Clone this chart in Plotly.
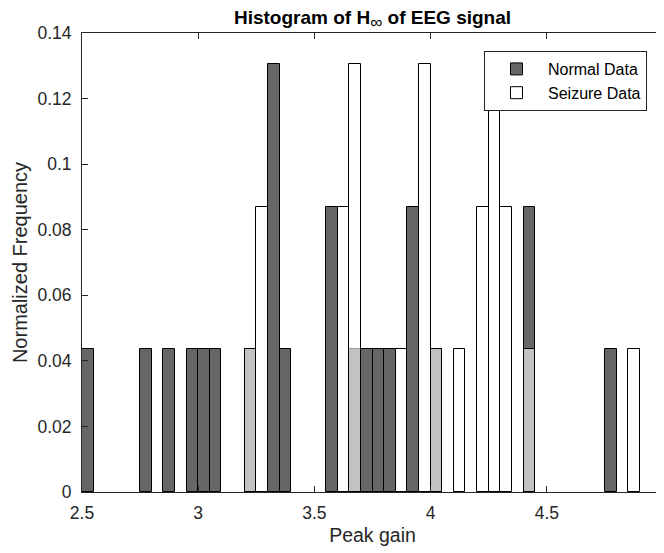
import plotly.graph_objects as go

bin_width = 0.05

normal_bin_starts = [2.50, 2.75, 2.85, 2.95, 3.00, 3.05, 3.20, 3.30, 3.35, 3.55, 3.65,
                     3.70, 3.75, 3.80, 3.90, 4.00, 4.40, 4.75]
normal_freq = [0.0435, 0.0435, 0.0435, 0.0435, 0.0435, 0.0435, 0.0435, 0.1304, 0.0435,
               0.0870, 0.0435, 0.0435, 0.0435, 0.0435, 0.0870, 0.0435, 0.0870, 0.0435]

seizure_bin_starts = [3.20, 3.25, 3.60, 3.65, 3.85, 3.95, 4.00, 4.10, 4.20, 4.25, 4.30,
                      4.40, 4.85]
seizure_freq = [0.0435, 0.0870, 0.0870, 0.1304, 0.0435, 0.1304, 0.0435, 0.0435, 0.0870,
                0.1304, 0.0870, 0.0435, 0.0435]

x_ticks = [2.5, 3, 3.5, 4, 4.5, 5]
x_tick_labels = ["2.5", "3", "3.5", "4", "4.5", "5"]
y_ticks = [0, 0.02, 0.04, 0.06, 0.08, 0.1, 0.12, 0.14]
y_tick_labels = ["0", "0.02", "0.04", "0.06", "0.08", "0.1", "0.12", "0.14"]

axis_color = "#262626"
font_family = "Liberation Sans, Arial, sans-serif"

# the page places the figure 8 px in from the top-left corner
W, H = 656, 545
L, R, T, B = 74, 1, 25, 61

fig = go.Figure()
fig.add_trace(go.Bar(
    x=[s + bin_width / 2 for s in normal_bin_starts], y=normal_freq, width=bin_width,
    name="Normal Data",
    marker=dict(color="rgba(0,0,0,0.6)", line=dict(color="black", width=1)),
))
fig.add_trace(go.Bar(
    x=[s + bin_width / 2 for s in seizure_bin_starts], y=seizure_freq, width=bin_width,
    name="Seizure Data",
    marker=dict(color="rgba(255,255,255,0.6)", line=dict(color="black", width=1)),
))

axis_common = dict(
    showgrid=False, zeroline=False, showline=True, linecolor=axis_color, linewidth=1,
    mirror="ticks", ticks="inside", ticklen=6, tickcolor=axis_color,
    tickfont=dict(family=font_family, size=17.5, color=axis_color),
    automargin=False, ticklabeloverflow="allow",
)

plot_w = W - L - R
plot_h = H - T - B

title_text = ("<b>Histogram of H<sub><span style='font-size:17px;font-weight:normal'>"
              "∞</span></sub> of EEG signal</b>")

fig.update_layout(
    width=W, height=H,
    barmode="overlay", bargap=0,
    paper_bgcolor="white", plot_bgcolor="white",
    margin=dict(l=L, r=R, t=T, b=B, pad=0),
    title=dict(text=title_text,
               x=(L + W - R) / 2 / W, xanchor="center",
               y=1 - 3 / H, yanchor="top", pad=dict(t=0),
               font=dict(family=font_family, size=19, color="black")),
    xaxis=dict(range=[2.5, 5], tickvals=x_ticks, ticktext=x_tick_labels,
               ticklabelstandoff=5,
               title=dict(text="Peak gain", standoff=6,
                          font=dict(family=font_family, size=19.5, color=axis_color)),
               **axis_common),
    yaxis=dict(range=[0, 0.14], tickvals=y_ticks, ticktext=y_tick_labels,
               ticklabelstandoff=6,
               title=dict(text="Normalized Frequency", standoff=4,
                          font=dict(family=font_family, size=20, color=axis_color)),
               **axis_common),
    legend=dict(x=(639 - L) / plot_w, y=(H - B - 43) / plot_h,
                xanchor="right", yanchor="top",
                bgcolor="white", bordercolor=axis_color, borderwidth=1,
                font=dict(family=font_family, size=16, color="black"),
                tracegroupgap=0, itemwidth=53),
    showlegend=True,
)

fig.write_html("out.html")
